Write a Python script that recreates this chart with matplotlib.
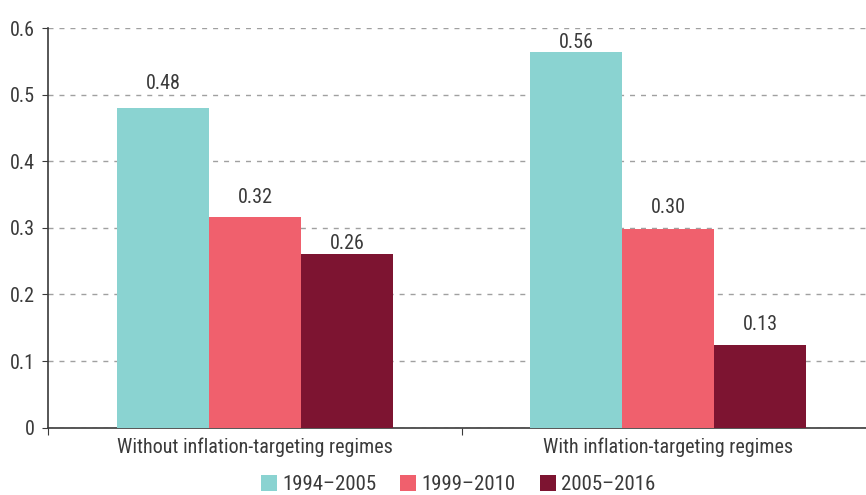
import matplotlib.pyplot as plt
import numpy as np

plt.rcParams['font.family'] = ['Roboto Condensed', 'DejaVu Sans']
plt.rcParams['font.weight'] = 'normal'

categories = ["Without inflation-targeting regimes", "With inflation-targeting regimes"]
periods = ["1994\u20132005", "1999\u20132010", "2005\u20132016"]
values = [
    [0.48, 0.564],   # 1994-2005
    [0.316, 0.299],  # 1999-2010
    [0.261, 0.124],  # 2005-2016
]
labels = [["0.48", "0.56"], ["0.32", "0.30"], ["0.26", "0.13"]]
colors = ["#8AD3D1", "#F0606D", "#7D1431"]
txt_col = "#3a3a3a"
# gap (points) between bar top and label baseline, as placed in the original
gaps = [[13.5, 3], [10, 11], [3.5, 11]]

fig = plt.figure(figsize=(8.66, 4.95), dpi=100)
ax = fig.add_axes([0.056, 0.136, 0.954, 0.8074])

x = np.arange(len(categories))
w = 0.2228
for i in range(len(periods)):
    pos = x + (i - 1) * w
    ax.bar(pos, values[i], width=w, color=colors[i], label=periods[i], zorder=3)
    for p, v, t, g in zip(pos, values[i], labels[i], gaps[i]):
        ax.annotate(t, (p, v), xytext=(0, g), textcoords="offset points",
                    ha="center", va="baseline", fontsize=14.5, color=txt_col)

ax.set_xlim(-0.5, 1.5)
ax.set_ylim(0, 0.6)
ax.set_yticks(np.arange(0, 0.61, 0.1))
ax.set_yticklabels(["0", "0.1", "0.2", "0.3", "0.4", "0.5", "0.6"])
ax.yaxis.grid(True, linestyle=(0, (3.6, 4.3)), color="#A0A0A0", linewidth=1, zorder=0)
ax.set_xticks([-0.5, 0.5])
ax.set_xticklabels([])
ax.set_xticks(x, minor=True)
ax.set_xticklabels(categories, minor=True)
ax.tick_params(axis="x", which="minor", length=0, pad=7, labelsize=14.5, labelcolor=txt_col)
ax.tick_params(axis="x", which="major", length=5, color=txt_col)
ax.tick_params(axis="y", length=4, labelsize=14.5, labelcolor=txt_col, color=txt_col, pad=6)

for s in ["top", "right"]:
    ax.spines[s].set_visible(False)
for s in ["left", "bottom"]:
    ax.spines[s].set_color(txt_col)
    ax.spines[s].set_linewidth(1.2)

leg = fig.legend(loc="lower center", bbox_to_anchor=(0.529, -0.036), ncol=3, frameon=False,
                 fontsize=15, handlelength=0.77, handleheight=0.77, handletextpad=0.24,
                 columnspacing=1.15)
for t in leg.get_texts():
    t.set_color(txt_col)

fig.savefig("out.png", dpi=100)
